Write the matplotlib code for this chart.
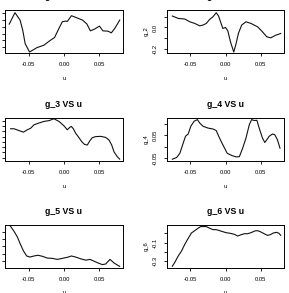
import matplotlib
matplotlib.use("Agg")
import matplotlib.pyplot as plt
import numpy as np

plt.rcParams['font.family'] = ['Liberation Sans', 'DejaVu Sans']
plt.rcParams['axes.unicode_minus'] = False

# g_1 VS u
u1 = [-0.0775, -0.0694, -0.0622, -0.0584, -0.0550, -0.0488, -0.0431, -0.0383, -0.0287, -0.0191,
      -0.0134, -0.0072, -0.0024, 0.0024, 0.0048, 0.0105, 0.0167, 0.0263, 0.0325, 0.0373,
      0.0431, 0.0502, 0.0550, 0.0622, 0.0670, 0.0718, 0.0789]
g1 = [0.070, 0.155, 0.100, 0.025, -0.075, -0.1375, -0.120, -0.105, -0.0875, -0.050,
      -0.030, 0.0375, 0.0875, 0.0925, 0.090, 0.1325, 0.120, 0.100, 0.070, 0.020,
      0.0325, 0.055, 0.020, 0.0175, 0.005, 0.0375, 0.100]

# g_2 VS u
u2 = [-0.0759, -0.0675, -0.0580, -0.0510, -0.0439, -0.0368, -0.0321, -0.0274, -0.0226, -0.0179,
      -0.0132, -0.0099, -0.0071, -0.0038, 0.0000, 0.0033, 0.0071, 0.0118, 0.0151, 0.0184,
      0.0231, 0.0292, 0.0363, 0.0458, 0.0528, 0.0590, 0.0646, 0.0717, 0.0788]
g2 = [0.105, 0.083, 0.077, 0.052, 0.037, 0.015, 0.022, 0.037, 0.074, 0.098,
      0.135, 0.105, 0.052, -0.009, 0.000, -0.031, -0.132, -0.225, -0.148, -0.055,
      0.022, 0.052, 0.037, 0.006, -0.040, -0.086, -0.095, -0.071, -0.055]

# g_3 VS u
u3 = [-0.0755, -0.0708, -0.0637, -0.0575, -0.0519, -0.0472, -0.0425, -0.0354, -0.0283, -0.0212,
      -0.0142, -0.0071, 0.0000, 0.0047, 0.0080, 0.0104, 0.0132, 0.0165, 0.0212, 0.0250,
      0.0292, 0.0330, 0.0368, 0.0401, 0.0448, 0.0519, 0.0590, 0.0637, 0.0675, 0.0708,
      0.0755, 0.0788]
g3 = [0.110, 0.110, 0.103, 0.097, 0.106, 0.112, 0.125, 0.132, 0.138, 0.141,
      0.148, 0.138, 0.121, 0.106, 0.115, 0.119, 0.110, 0.093, 0.076, 0.061,
      0.050, 0.048, 0.065, 0.076, 0.080, 0.081, 0.077, 0.067, 0.048, 0.022,
      0.003, -0.006]

# g_4 VS u
u4 = [-0.0759, -0.0698, -0.0651, -0.0604, -0.0571, -0.0533, -0.0495, -0.0448, -0.0401, -0.0368,
      -0.0321, -0.0250, -0.0179, -0.0132, -0.0085, -0.0038, 0.0024, 0.0090, 0.0151, 0.0198,
      0.0245, 0.0292, 0.0340, 0.0373, 0.0410, 0.0448, 0.0481, 0.0528, 0.0561, 0.0590,
      0.0623, 0.0670, 0.0703, 0.0741, 0.0778]
g4 = [-0.054, -0.047, -0.028, 0.016, 0.046, 0.056, 0.090, 0.112, 0.119, 0.104,
      0.090, 0.082, 0.078, 0.071, 0.038, 0.009, -0.028, -0.038, -0.044, -0.043,
      -0.006, 0.038, 0.097, 0.119, 0.115, 0.116, 0.082, 0.038, 0.019, 0.031,
      0.046, 0.056, 0.053, 0.031, -0.006]

# g_5 VS u
u5 = [-0.0764, -0.0708, -0.0660, -0.0623, -0.0575, -0.0528, -0.0481, -0.0425, -0.0368, -0.0307,
      -0.0236, -0.0165, -0.0094, -0.0024, 0.0047, 0.0104, 0.0165, 0.0236, 0.0307, 0.0368,
      0.0425, 0.0481, 0.0542, 0.0590, 0.0651, 0.0708, 0.0755, 0.0788]
g5 = [0.240, 0.202, 0.163, 0.121, 0.070, 0.035, 0.028, 0.035, 0.040, 0.033,
      0.021, 0.019, 0.012, 0.019, 0.026, 0.035, 0.028, 0.016, 0.007, 0.012,
      0.000, -0.012, -0.023, -0.019, 0.012, -0.012, -0.026, -0.035]

# g_6 VS u
u6 = [-0.0759, -0.0722, -0.0675, -0.0627, -0.0580, -0.0533, -0.0486, -0.0439, -0.0392, -0.0354,
      -0.0274, -0.0226, -0.0179, -0.0132, -0.0085, -0.0038, 0.0009, 0.0071, 0.0127, 0.0175,
      0.0222, 0.0269, 0.0316, 0.0363, 0.0420, 0.0458, 0.0505, 0.0552, 0.0599, 0.0637,
      0.0684, 0.0731, 0.0764, 0.0788]
g6 = [-0.355, -0.311, -0.245, -0.190, -0.117, -0.055, 0.004, 0.029, 0.055, 0.073,
      0.073, 0.055, 0.040, 0.040, 0.029, 0.018, 0.007, 0.000, -0.011, -0.029,
      -0.015, -0.004, -0.004, 0.007, 0.026, 0.029, 0.015, -0.004, -0.022, -0.015,
      0.004, 0.011, 0.000, -0.022]

x_ticks = [-0.05, 0.0, 0.05]
x_labels = ["-0.05", "0.00", "0.05"]

# left column: the y labels sit off the left edge of the crop, so only ticks show
panels = [
    ("g_1", u1, g1, (-0.145, 0.175), np.arange(-0.10, 0.151, 0.05), None),
    ("g_2", u2, g2, (-0.234, 0.16), [-0.2, -0.1, 0.0, 0.1], ["-0.2", "", "0.0", ""]),
    ("g_3", u3, g3, (-0.013, 0.151), np.arange(0.0, 0.141, 0.02), None),
    ("g_4", u4, g4, (-0.062, 0.126), [-0.05, 0.0, 0.05, 0.10], ["-0.05", "", "0.05", ""]),
    ("g_5", u5, g5, (-0.046, 0.244), np.arange(0.0, 0.201, 0.05), None),
    ("g_6", u6, g6, (-0.374, 0.09), [-0.3, -0.2, -0.1, 0.0], ["-0.3", "", "-0.1", ""]),
]

W, H = 289, 293
fig = plt.figure(figsize=(W / 100, H / 100), dpi=100)

col_x = [(5, 123), (167, 284)]
row_y = [(10, 53), (118, 161), (225, 268)]

for i, (name, u, g, ylim, yt, ylab) in enumerate(panels):
    r, c = divmod(i, 2)
    x0, x1 = col_x[c]
    y0, y1 = row_y[r]
    ax = fig.add_axes([x0 / W, 1 - y1 / H, (x1 - x0) / W, (y1 - y0) / H])
    ax.plot(u, g, color="#111111", lw=0.8)
    ax.set_xlim(-0.0835, 0.0835)
    ax.set_ylim(*ylim)
    ax.set_xticks(x_ticks)
    ax.set_xticklabels(x_labels)
    ax.set_yticks(yt)
    if ylab is not None:
        ax.set_yticklabels(ylab)
    else:
        ax.set_yticklabels([])
    for lab in ax.get_yticklabels():
        lab.set_rotation(90)
        lab.set_va("center")
    ax.tick_params(direction="out", length=2.2, width=0.6, labelsize=4.2, pad=4.5)
    for s in ax.spines.values():
        s.set_linewidth(0.7)
    ax.annotate(name + " VS u", xy=(0.5, 1), xycoords="axes fraction",
                xytext=(0, 9.5), textcoords="offset points",
                ha="center", va="center", fontsize=6.3, fontweight="bold")
    ax.annotate("u", xy=(0.5, 0), xycoords="axes fraction",
                xytext=(0, -18), textcoords="offset points",
                ha="center", va="center", fontsize=4.2)
    if c == 1:
        ax.annotate(name, xy=(0, 0.5), xycoords="axes fraction",
                    xytext=(-15, 0), textcoords="offset points",
                    ha="center", va="center", fontsize=4.2, rotation=90)

fig.savefig("out.png", dpi=100)
